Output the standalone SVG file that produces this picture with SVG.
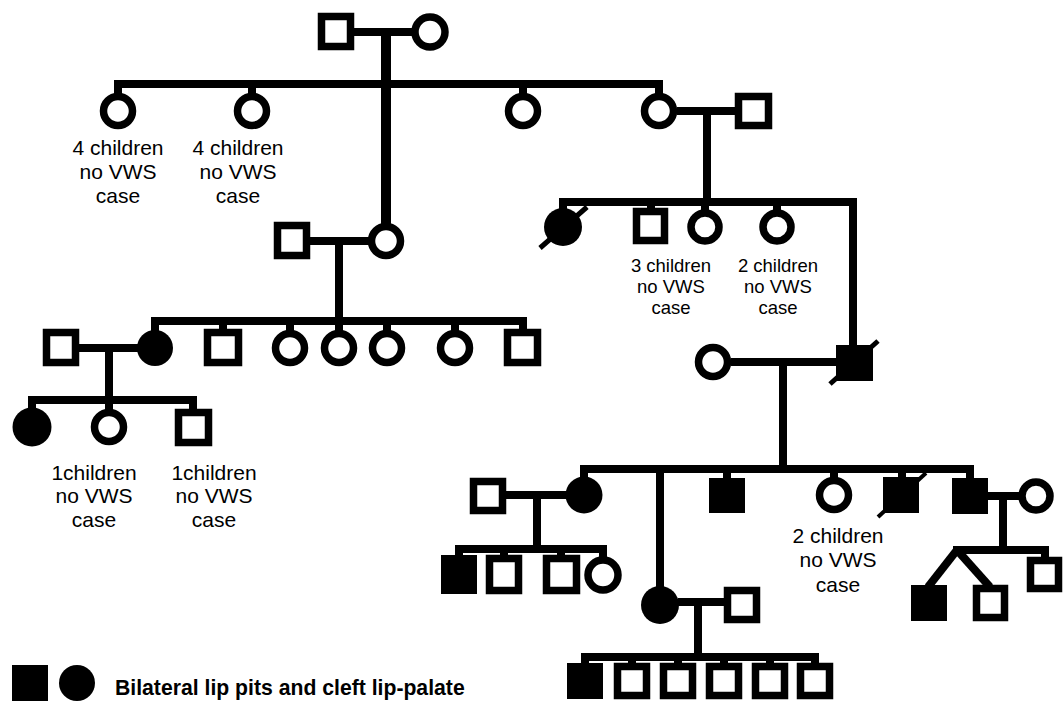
<svg xmlns="http://www.w3.org/2000/svg" width="1064" height="701" viewBox="0 0 1064 701">
<style>
.sq{fill:#fff;stroke:#000;stroke-width:7.5}
.sqf{fill:#000}
.ci{fill:#fff;stroke:#000;stroke-width:7.5}
.cif{fill:#000}
.ln{stroke:#000;stroke-width:8;fill:none;stroke-linecap:butt}
.dl{stroke:#000;stroke-width:5;stroke-linecap:butt}
.t{font-family:"Liberation Sans",Arial,sans-serif;font-size:21px;fill:#000;text-anchor:middle}
.ts{font-family:"Liberation Sans",Arial,sans-serif;font-size:18.5px;fill:#000;text-anchor:middle}
.lg{font-family:"Liberation Sans",Arial,sans-serif;font-size:21.2px;font-weight:bold;fill:#000}
</style>
<rect width="1064" height="701" fill="#fff"/>
<g id="connectors">
  <line class="ln" x1="354" y1="32" x2="412" y2="32"/>
  <line class="ln" x1="386" y1="32" x2="386" y2="225" style="stroke-width:10"/>
  <path class="ln" d="M118,95 V84 H659 V95"/>
  <line class="ln" x1="252" y1="84" x2="252" y2="95"/>
  <line class="ln" x1="523" y1="84" x2="523" y2="95"/>
  <line class="ln" x1="677" y1="111" x2="736" y2="111"/>
  <line class="ln" x1="707" y1="111" x2="707" y2="202"/>
  <path class="ln" d="M563,211 V202 H853 V346"/>
  <line class="ln" x1="651" y1="202" x2="651" y2="209"/>
  <line class="ln" x1="705" y1="202" x2="705" y2="211"/>
  <line class="ln" x1="777" y1="202" x2="777" y2="211"/>
  <line class="ln" x1="731" y1="362" x2="837" y2="362"/>
  <line class="ln" x1="783" y1="362" x2="783" y2="469"/>
  <line class="ln" x1="310" y1="241" x2="369" y2="241"/>
  <line class="ln" x1="339" y1="241" x2="339" y2="321"/>
  <path class="ln" d="M155,332 V321 H523 V330"/>
  <line class="ln" x1="223" y1="321" x2="223" y2="330"/>
  <line class="ln" x1="290" y1="321" x2="290" y2="332"/>
  <line class="ln" x1="339" y1="321" x2="339" y2="332"/>
  <line class="ln" x1="387" y1="321" x2="387" y2="332"/>
  <line class="ln" x1="455" y1="321" x2="455" y2="332"/>
  <line class="ln" x1="79" y1="348" x2="138" y2="348"/>
  <line class="ln" x1="109" y1="348" x2="109" y2="400"/>
  <path class="ln" d="M32,410 V400 H193 V410"/>
  <line class="ln" x1="109" y1="400" x2="109" y2="411"/>
  <path class="ln" d="M584,478 V469 H970 V479"/>
  <line class="ln" x1="660" y1="469" x2="660" y2="588"/>
  <line class="ln" x1="727" y1="469" x2="727" y2="479"/>
  <line class="ln" x1="834" y1="469" x2="834" y2="479"/>
  <line class="ln" x1="902" y1="469" x2="902" y2="478"/>
  <line class="ln" x1="506" y1="495" x2="567" y2="495"/>
  <line class="ln" x1="537" y1="495" x2="537" y2="549"/>
  <path class="ln" d="M459,556 V549 H603 V558"/>
  <line class="ln" x1="504" y1="549" x2="504" y2="556"/>
  <line class="ln" x1="561" y1="549" x2="561" y2="556"/>
  <line class="ln" x1="678" y1="602" x2="725" y2="602"/>
  <line class="ln" x1="698" y1="602" x2="698" y2="657"/>
  <path class="ln" d="M585,664 V657 H815 V664"/>
  <line class="ln" x1="632" y1="657" x2="632" y2="664"/>
  <line class="ln" x1="678" y1="657" x2="678" y2="664"/>
  <line class="ln" x1="724" y1="657" x2="724" y2="664"/>
  <line class="ln" x1="770" y1="657" x2="770" y2="664"/>
  <line class="ln" x1="988" y1="496" x2="1020" y2="496"/>
  <line class="ln" x1="1003" y1="496" x2="1003" y2="550"/>
  <path class="ln" d="M953,550 H1045 V558"/>
  <line class="ln" x1="957" y1="550" x2="928" y2="587"/>
  <line class="ln" x1="957" y1="550" x2="990" y2="587"/>
</g>
<g id="I1"><rect class="sq" x="321.5" y="16.5" width="29" height="30"/></g>
<g id="I2"><circle class="ci" cx="430" cy="32" r="15"/></g>
<g id="II1"><circle class="ci" cx="118" cy="111" r="14.5"/>
  <text class="t" x="118" y="155">4 children</text><text class="t" x="118" y="179">no VWS</text><text class="t" x="118" y="203">case</text></g>
<g id="II2"><circle class="ci" cx="252" cy="111" r="14.5"/>
  <text class="t" x="238" y="155">4 children</text><text class="t" x="238" y="179">no VWS</text><text class="t" x="238" y="203">case</text></g>
<g id="II3"><circle class="ci" cx="386" cy="241" r="14.5"/></g>
<g id="II3s"><rect class="sq" x="277.5" y="225.5" width="29" height="30"/></g>
<g id="II4"><circle class="ci" cx="523" cy="111" r="14.5"/></g>
<g id="II5"><circle class="ci" cx="659" cy="111" r="14.5"/></g>
<g id="II5s"><rect class="sq" x="738.5" y="96.5" width="30" height="29"/></g>
<g id="III1"><circle class="cif" cx="563" cy="227" r="19"/><line class="dl" x1="540" y1="248" x2="587" y2="207"/></g>
<g id="III2"><rect class="sq" x="636.5" y="211.5" width="28" height="29"/></g>
<g id="III3"><circle class="ci" cx="705" cy="227" r="14"/></g>
<g id="III4"><circle class="ci" cx="777" cy="227" r="14"/></g>
<g id="T3"><text class="ts" x="671" y="272">3 children</text><text class="ts" x="671" y="293">no VWS</text><text class="ts" x="671" y="314">case</text></g>
<g id="T2a"><text class="ts" x="778" y="272">2 children</text><text class="ts" x="778" y="293">no VWS</text><text class="ts" x="778" y="314">case</text></g>
<g id="III5"><rect class="sqf" x="836" y="345" width="37" height="36"/><line class="dl" x1="830" y1="384" x2="878" y2="341"/></g>
<g id="III5s"><circle class="ci" cx="713" cy="362" r="14.5"/></g>
<g id="III6s"><rect class="sq" x="46.5" y="332.5" width="29" height="30"/></g>
<g id="III6"><circle class="cif" cx="155" cy="348" r="18"/></g>
<g id="III7"><rect class="sq" x="207.5" y="332.5" width="31" height="30"/></g>
<g id="III8"><circle class="ci" cx="290" cy="348" r="14.5"/></g>
<g id="III9"><circle class="ci" cx="339" cy="348" r="14.5"/></g>
<g id="III10"><circle class="ci" cx="387" cy="348" r="14.5"/></g>
<g id="III11"><circle class="ci" cx="455" cy="348" r="14.5"/></g>
<g id="III12"><rect class="sq" x="507.5" y="332.5" width="30" height="30"/></g>
<g id="IV1"><circle class="cif" cx="32" cy="427" r="19.5"/></g>
<g id="IV2"><circle class="ci" cx="109" cy="427" r="14.5"/>
  <text class="t" x="94" y="480">1children</text><text class="t" x="94" y="503">no VWS</text><text class="t" x="94" y="527">case</text></g>
<g id="IV3"><rect class="sq" x="178.5" y="412.5" width="30" height="30"/>
  <text class="t" x="214" y="480">1children</text><text class="t" x="214" y="503">no VWS</text><text class="t" x="214" y="527">case</text></g>
<g id="IV4s"><rect class="sq" x="473.5" y="481.5" width="29" height="29"/></g>
<g id="IV4"><circle class="cif" cx="584" cy="495" r="18.5"/></g>
<g id="IV5"><circle class="cif" cx="660" cy="605" r="19"/></g>
<g id="IV5s"><rect class="sq" x="727.5" y="590.5" width="29" height="29"/></g>
<g id="IV6"><rect class="sqf" x="709" y="478" width="36" height="35"/></g>
<g id="IV7"><circle class="ci" cx="834" cy="495" r="14.5"/>
  <text class="t" x="838" y="543">2 children</text><text class="t" x="838" y="567">no VWS</text><text class="t" x="838" y="592">case</text></g>
<g id="IV8"><rect class="sqf" x="883" y="477" width="36" height="36"/><line class="dl" x1="878" y1="517" x2="926" y2="473" style="stroke-width:4"/></g>
<g id="IV9"><rect class="sqf" x="952" y="478" width="36" height="36"/></g>
<g id="IV9s"><circle class="ci" cx="1036" cy="496" r="14"/></g>
<g id="V1"><rect class="sqf" x="441" y="555" width="36" height="39"/></g>
<g id="V2"><rect class="sq" x="489.5" y="558.5" width="29" height="32"/></g>
<g id="V3"><rect class="sq" x="546.5" y="558.5" width="30" height="32"/></g>
<g id="V4"><circle class="ci" cx="603" cy="575" r="15"/></g>
<g id="V5"><rect class="sqf" x="567" y="663" width="36" height="36"/></g>
<g id="V6"><rect class="sq" x="617.5" y="666.5" width="29" height="29"/></g>
<g id="V7"><rect class="sq" x="663.5" y="666.5" width="29" height="29"/></g>
<g id="V8"><rect class="sq" x="709.5" y="666.5" width="29" height="29"/></g>
<g id="V9"><rect class="sq" x="755.5" y="666.5" width="29" height="29"/></g>
<g id="V10"><rect class="sq" x="800.5" y="666.5" width="29" height="29"/></g>
<g id="V11"><rect class="sqf" x="911" y="585" width="36" height="36"/></g>
<g id="V12"><rect class="sq" x="976.5" y="588.5" width="28" height="29"/></g>
<g id="V13"><rect class="sq" x="1030.5" y="560.5" width="28" height="28"/></g>
<g id="legend">
  <rect class="sqf" x="12" y="665" width="36" height="36"/>
  <circle class="cif" cx="77" cy="683" r="18"/>
  <text class="lg" x="115" y="695">Bilateral lip pits and cleft lip-palate</text>
</g>
</svg>
